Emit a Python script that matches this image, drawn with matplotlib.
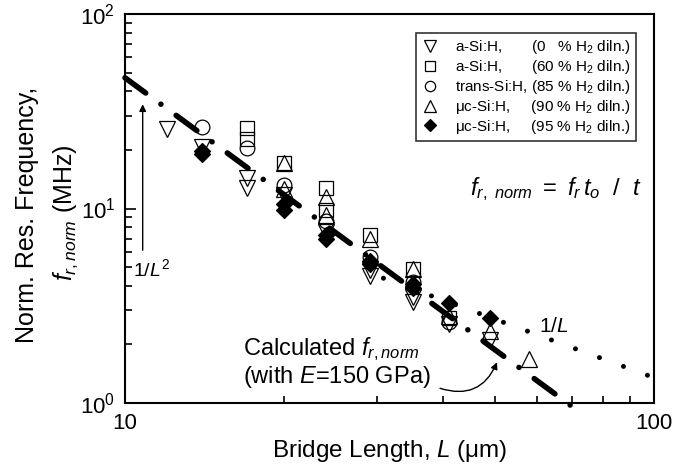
import matplotlib
matplotlib.use('Agg')
import matplotlib.pyplot as plt
from matplotlib.ticker import FixedLocator, FixedFormatter, NullFormatter, LogLocator

plt.rcParams['font.family'] = ['Liberation Sans', 'DejaVu Sans']
plt.rcParams['mathtext.fontset'] = 'custom'
plt.rcParams['mathtext.rm'] = 'Liberation Sans'
plt.rcParams['mathtext.it'] = 'Liberation Sans:italic'
plt.rcParams['mathtext.bf'] = 'Liberation Sans:bold'
plt.rcParams['lines.scale_dashes'] = False

# measured data, bridge length L (um) vs normalised resonance frequency (MHz)
L_asi0 = [12, 14, 17, 17, 20, 24, 29, 29, 35, 35, 41, 49]
f_asi0 = [25.7, 20.6, 14.3, 12.7, 11.8, 7.6, 4.8, 4.5, 3.5, 3.3, 2.55, 2.1]

L_asi60 = [17, 17, 20, 24, 24, 29, 35, 41]
f_asi60 = [25.8, 22.9, 17.1, 12.7, 9.8, 7.3, 4.9, 2.75]

L_trans = [14, 17, 20, 24, 29, 35, 41]
f_trans = [26.3, 20.4, 13.2, 8.6, 5.6, 4.2, 2.6]

L_uc90 = [20, 20, 24, 24, 29, 35, 41, 49, 58]
f_uc90 = [17.1, 12.6, 11.5, 9.3, 7.0, 4.9, 2.8, 2.35, 1.68]

L_uc95 = [14, 14, 20, 20, 24, 24, 29, 29, 35, 35, 41, 49]
f_uc95 = [19.8, 19.0, 10.6, 9.8, 7.3, 7.0, 5.4, 5.2, 4.1, 3.9, 3.25, 2.73]

# calculated 1/L^2 curve (E = 150 GPa) and a 1/L guide, end points
L_calc = [10, 70]
f_calc = [47, 0.96]
L_inv = [30.8, 100]
f_inv = [4.38, 1.35]

labels = ['a-Si:H,       (0   % H$_2$ diln.)',
          'a-Si:H,       (60 % H$_2$ diln.)',
          'trans-Si:H, (85 % H$_2$ diln.)',
          '\u03bcc-Si:H,     (90 % H$_2$ diln.)',
          '\u03bcc-Si:H,     (95 % H$_2$ diln.)']

fig = plt.figure(figsize=(6.79, 4.68), dpi=100)
ax = fig.add_axes([125 / 679, 1 - 403 / 468, 529 / 679, 389 / 468])

# calculated line: thick dash - dot
ax.plot(L_calc, f_calc, color='black', lw=4.0, linestyle=(0, (18.5, 13.6, 0.01, 13.6)),
        dash_capstyle='round', clip_on=False, zorder=2)
# 1/L dotted guide
ax.plot(L_inv, f_inv, color='black', lw=3.6, linestyle=(0, (0.01, 18.4)),
        dash_capstyle='round', zorder=2)

mk = dict(linestyle='none', markeredgecolor='black', markeredgewidth=0.9)
ax.plot(L_asi0, f_asi0, marker='v', ms=11.5, markerfacecolor='none', label=labels[0], **mk)
ax.plot(L_asi60, f_asi60, marker='s', ms=9.4, markerfacecolor='none', label=labels[1], **mk)
ax.plot(L_trans, f_trans, marker='o', ms=10.6, markerfacecolor='none', label=labels[2], **mk)
ax.plot(L_uc90, f_uc90, marker='^', ms=11.5, markerfacecolor='none', label=labels[3], **mk)
ax.plot(L_uc95, f_uc95, marker='D', ms=8.5, markerfacecolor='black', label=labels[4], **mk)

ax.set_xscale('log')
ax.set_yscale('log')
ax.set_xlim(10, 100)
ax.set_ylim(1, 100)

ax.xaxis.set_major_locator(FixedLocator([10, 100]))
ax.xaxis.set_major_formatter(FixedFormatter(['10', '100']))
ax.xaxis.set_minor_locator(LogLocator(base=10, subs=range(2, 10)))
ax.xaxis.set_minor_formatter(NullFormatter())
ax.yaxis.set_minor_formatter(NullFormatter())

for s in ax.spines.values():
    s.set_linewidth(1.5)
ax.tick_params(which='both', direction='in', width=1.2, labelsize=16, top=False, right=False)
ax.tick_params(which='major', length=8, pad=7)
ax.tick_params(which='minor', length=5)

ax.set_xlabel('Bridge Length, $L$ ($\\mathrm{\u03bc}$m)', fontsize=17.5, labelpad=3)
fig.text(27 / 679, 1 - 215 / 468, 'Norm. Res. Frequency,', rotation=90,
         ha='center', va='center', fontsize=18)
fig.text(66 / 679, 1 - 213 / 468, '$f_{r,norm}$ (MHz)', rotation=90,
         ha='center', va='center', fontsize=18)

leg = ax.legend(loc='upper right', bbox_to_anchor=(0.966, 0.951), borderaxespad=0,
                fontsize=11, frameon=True, fancybox=False, edgecolor='black',
                markerscale=0.7, handlelength=1.2, handletextpad=1.0,
                labelspacing=0.12, borderpad=0.35)
leg.get_frame().set_linewidth(1.2)

# annotations
ax.annotate('', xy=(10.8, 35.5), xytext=(10.8, 5.9),
            arrowprops=dict(arrowstyle='-|>', color='black', lw=1.0, mutation_scale=10))
ax.text(11.25, 4.9, '$1/L^2$', fontsize=14, ha='center', va='center')
ax.text(64.7, 2.46, '$1/L$', fontsize=15, ha='center', va='center')
ax.text(44.9, 11.7, '$f_{r,\\ norm}\\ =\\ f_r\\,t_o\\ \\ /\\ \\ t$', fontsize=17,
        ha='left', va='baseline')
ax.text(16.7, 1.77, 'Calculated $f_{r,norm}$', fontsize=17, ha='left', va='baseline')
ax.text(16.7, 1.27, '(with $E$=150 GPa)', fontsize=17, ha='left', va='baseline')
ax.annotate('', xy=(50.5, 1.62), xytext=(39.4, 1.19),
            arrowprops=dict(arrowstyle='-|>', color='black', lw=1.0, mutation_scale=10,
                            shrinkA=0, shrinkB=0, connectionstyle='arc3,rad=0.45'))

fig.savefig('out.png', dpi=100)
